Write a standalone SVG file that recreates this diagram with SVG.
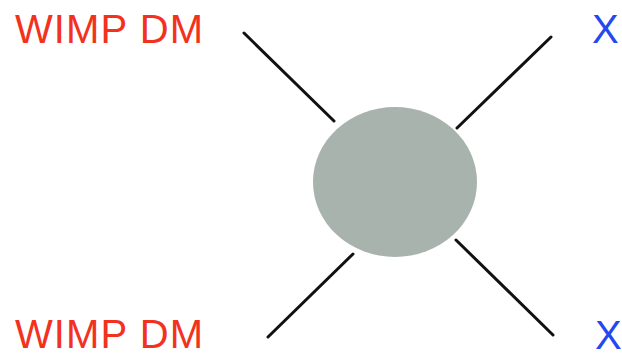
<svg xmlns="http://www.w3.org/2000/svg" width="622" height="358" viewBox="0 0 622 358">
<style>
.dm{font-family:"Liberation Sans",Arial,sans-serif;font-size:40px;fill:#f2321e}
.x{font-family:"Liberation Sans",Arial,sans-serif;font-size:40px;fill:#2447f0}
.ln{stroke:#111;stroke-width:3;stroke-linecap:round}
</style>
<rect width="622" height="358" fill="#fff"/>
<g id="connectors">
<line class="ln" x1="244" y1="33" x2="334" y2="121"/>
<line class="ln" x1="551" y1="37" x2="457" y2="128"/>
<line class="ln" x1="353" y1="254" x2="268" y2="337"/>
<line class="ln" x1="456" y1="240" x2="553" y2="335"/>
</g>
<g id="vertex">
<ellipse cx="395" cy="182" rx="82" ry="75" fill="#a9b3ad"/>
</g>
<g id="dm1"><text class="dm" x="15" y="43" textLength="188">WIMP DM</text></g>
<g id="dm2"><text class="dm" x="15" y="348" textLength="188">WIMP DM</text></g>
<g id="x1"><text class="x" x="592" y="43">X</text></g>
<g id="x2"><text class="x" x="595" y="349">X</text></g>
</svg>
